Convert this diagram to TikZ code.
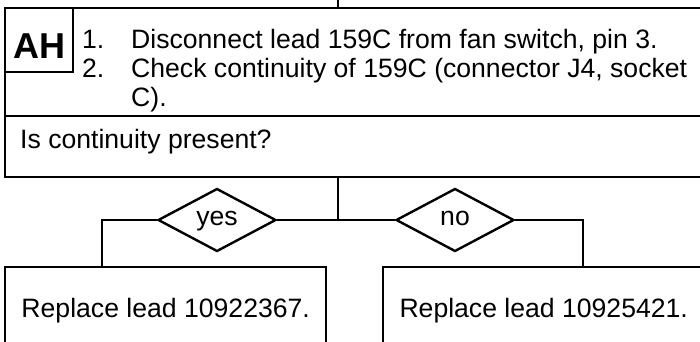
\documentclass[tikz,border=0pt]{standalone}
\usepackage{fontspec}
\setmainfont{Liberation Sans}
\usetikzlibrary{positioning, shapes.geometric}

\begin{document}
\begin{tikzpicture}[
    x=1pt, y=-1pt,
    every node/.style = {inner sep=0pt, font=\fontsize{26.6}{28.5}\selectfont},
    box/.style      = {draw=black, line width=2.4pt, rectangle, anchor=north west},
    tagbox/.style   = {box, minimum width=68pt, minimum height=64pt},
    tagtxt/.style   = {anchor=base, font=\bfseries\fontsize{36}{40}\selectfont},
    txt/.style      = {anchor=base west},
    decision/.style = {draw=black, line width=2.4pt, diamond, minimum width=118pt, minimum height=63pt,
                       text height=10pt, text depth=0pt},
    link/.style     = {line width=2.4pt}
]

\useasboundingbox (0,0) rectangle (700,341);
\clip (0,0) rectangle (700,341);

% task box with its tag
\node[box, minimum width=699pt, minimum height=108pt] (task) at (4,7) {};
\node[tagbox] (tag) at (4,7) {};
\node[tagtxt] (tagname) at ([yshift=-18pt]tag.center) {AH};

% steps
\node[txt] (num1)  at (82,48)  {1.};
\node[txt] (line1) at (131,48) {Disconnect lead 159C from fan switch, pin 3.};
\node[txt] (num2)  at (82,77)  {2.};
\node[txt] (line2) at (131,77) {Check continuity of 159C (connector J4, socket};
\node[txt] (line3) at (131,106) {C).};

% question
\node[box, minimum width=699pt, minimum height=60.5pt] (askbox) at (4,115) {};
\node[txt] (ask) at (20,148) {Is continuity present?};

% answers
\node[decision] (yes) at (217,220) {yes};
\node[decision] (no)  at (455,220) {no};

% results
\node[box, minimum width=321pt, minimum height=86pt] (fixa) at (4,266)   {};
\node[box, minimum width=321pt, minimum height=86pt] (fixb) at (382,266) {};
\node[anchor=base] (fixatxt) at ([yshift=-51pt]fixa.north) {Replace lead 10922367.};
\node[anchor=base] (fixbtxt) at ([yshift=-51pt]fixb.north) {Replace lead 10925421.};

% connectors
\coordinate (feed) at (338,0);
\draw[link] (feed) -- (feed |- task.north);
\coordinate (split) at (338,220);
\draw[link] (split |- askbox.south) -- (split);
\draw[link] (yes.east) -- (split) -- (no.west);
\coordinate (yesbend) at (102,220);
\draw[link] (yes.west) -- (yesbend) -- (yesbend |- fixa.north);
\coordinate (nobend) at (583,220);
\draw[link] (no.east) -- (nobend) -- (nobend |- fixb.north);

\end{tikzpicture}
\end{document}
